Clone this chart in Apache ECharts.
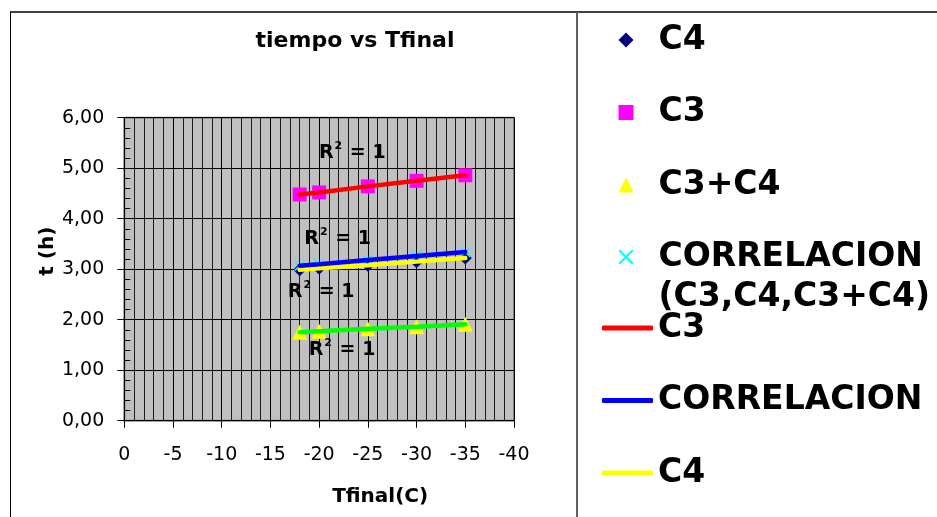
<!DOCTYPE html>
<html>
<head>
<meta charset="utf-8">
<script src="https://cdn.jsdelivr.net/npm/echarts@6/dist/echarts.min.js"></script>
<style>
html,body{margin:0;padding:0;background:#fff;}
#chart{width:937px;height:517px;}
</style>
</head>
<body>
<div id="chart"></div>
<script>
// ---- data ----
var temps = [-18, -20, -25, -30, -35];
var c4 = [2.99, 3.02, 3.08, 3.15, 3.22];
var c3 = [4.48, 4.52, 4.64, 4.75, 4.86];
var c3c4 = [1.75, 1.77, 1.82, 1.86, 1.91];
var correl = [3.07, 3.10, 3.18, 3.26, 3.34];
var r2X = [-23.4, -21.9, -20.2, -22.35];
var r2Y = [5.32, 3.63, 2.57, 1.42];

function pairs(xs, ys) { return xs.map(function (x, i) { return [x, ys[i]]; }); }

var FONT = 'DejaVu Sans';
var crossPath = 'path://M0,1 L1,0 L5,4 L9,0 L10,1 L6,5 L10,9 L9,10 L5,6 L1,10 L0,9 L4,5 Z';

var displayNames = {
  'CORRELACION (C3,C4,C3+C4)': ' \nCORRELACION\n(C3,C4,C3+C4)',
  'C3 tendencia': 'C3',
  'CORRELACION tendencia': 'CORRELACION',
  'C4 tendencia': 'C4'
};
function fmt(n) { return displayNames[n] || n; }

var chart = echarts.init(document.getElementById('chart'));
var option = {
  backgroundColor: '#fff',
  animation: false,
  textStyle: { fontFamily: FONT },
  title: {
    text: 'tiempo vs Tfinal',
    left: 350, top: 25, textAlign: 'center',
    textStyle: { fontFamily: FONT, fontWeight: 'bold', fontSize: 22, color: '#000' }
  },
  grid: {
    left: 124.3, right: 423, top: 117.7, bottom: 96.3,
    show: true, backgroundColor: '#C0C0C0', borderColor: '#808080', borderWidth: 2
  },
  legend: [
    {
      orient: 'vertical', left: 618.5, top: 20, padding: 0, itemGap: 32.5,
      itemWidth: 15, itemHeight: 15, selectedMode: false,
      data: ['C4', 'C3', 'C3+C4'], formatter: fmt,
      textStyle: { fontFamily: FONT, fontWeight: 'bold', fontSize: 33, color: '#000', lineHeight: 40, padding: [0, 0, 0, 20] }
    },
    {
      orient: 'vertical', left: 618.5, top: 197, padding: 0,
      itemWidth: 15, itemHeight: 15, selectedMode: false,
      data: ['CORRELACION (C3,C4,C3+C4)'], formatter: fmt,
      textStyle: { fontFamily: FONT, fontWeight: 'bold', fontSize: 33, color: '#000', lineHeight: 40, padding: [0, 0, 0, 20] }
    },
    {
      orient: 'vertical', left: 602, top: 308, padding: 0, itemGap: 32.5,
      itemWidth: 51, itemHeight: 5, icon: 'roundRect', selectedMode: false,
      data: ['C3 tendencia', 'CORRELACION tendencia', 'C4 tendencia'], formatter: fmt,
      textStyle: { fontFamily: FONT, fontWeight: 'bold', fontSize: 33, color: '#000', lineHeight: 40 }
    }
  ],
  xAxis: {
    type: 'value', min: -40, max: 0, interval: 5, inverse: true,
    axisLine: { show: true, onZero: false, lineStyle: { color: '#000', width: 1 } },
    axisTick: { show: true, length: 7, lineStyle: { color: '#000' } },
    minorTick: { show: true, splitNumber: 5, length: 0 },
    splitLine: { show: true, lineStyle: { color: '#000', width: 1 } },
    minorSplitLine: { show: true, lineStyle: { color: '#1a1a1a', width: 1 } },
    axisLabel: { fontFamily: FONT, fontSize: 19, color: '#000', margin: 25 },
    name: 'Tfinal(C)', nameLocation: 'middle', nameGap: 66,
    nameTextStyle: { fontFamily: FONT, fontWeight: 'bold', fontSize: 20, color: '#000', padding: [0, 0, 0, 122] }
  },
  yAxis: {
    type: 'value', min: 0, max: 6, interval: 1,
    axisLine: { show: true, onZero: false, lineStyle: { color: '#000', width: 1 } },
    axisTick: { show: true, length: 7, lineStyle: { color: '#000' } },
    minorTick: { show: true, splitNumber: 5, length: -6, lineStyle: { color: '#000' } },
    splitLine: { show: true, lineStyle: { color: '#000', width: 1 } },
    axisLabel: {
      fontFamily: FONT, fontSize: 19, color: '#000', margin: 20,
      formatter: function (v) { return v.toFixed(2).replace('.', ','); }
    },
    name: 't (h)', nameLocation: 'middle', nameGap: 62,
    nameTextStyle: { fontFamily: FONT, fontWeight: 'bold', fontSize: 20, color: '#000', padding: [0, 0, 0, 36] }
  },
  series: [
    { name: 'C4', type: 'scatter', symbol: 'diamond', symbolSize: 13, z: 2,
      itemStyle: { color: '#000080', opacity: 1 }, data: pairs(temps, c4) },
    { name: 'C3', type: 'scatter', symbol: 'rect', symbolSize: 14, z: 2,
      itemStyle: { color: '#FF00FF', opacity: 1 }, data: pairs(temps, c3) },
    { name: 'C3+C4', type: 'scatter', symbol: 'triangle', symbolSize: 15, z: 2,
      itemStyle: { color: '#FFFF00', opacity: 1 }, data: pairs(temps, c3c4) },
    { name: 'CORRELACION (C3,C4,C3+C4)', type: 'scatter', symbol: crossPath, symbolSize: 11, z: 2,
      itemStyle: { color: '#00FFFF', opacity: 1 }, data: pairs(temps, correl) },
    { name: 'C3 tendencia', type: 'line', symbol: 'none', z: 4, color: '#FF0000',
      lineStyle: { color: '#FF0000', width: 4.5, cap: 'round' }, data: pairs(temps, c3) },
    { name: 'C4 tendencia', type: 'line', symbol: 'none', z: 4, color: '#FFFF00',
      lineStyle: { color: '#FFFF00', width: 4.5, cap: 'round' }, data: pairs(temps, c4) },
    { name: 'CORRELACION tendencia', type: 'line', symbol: 'none', z: 5, color: '#0000FF',
      lineStyle: { color: '#0000FF', width: 4.5, cap: 'round' }, data: pairs(temps, correl) },
    { name: 'C3+C4 tendencia', type: 'line', symbol: 'none', z: 4, color: '#00FF00',
      lineStyle: { color: '#00FF00', width: 4.5, cap: 'round' }, data: pairs(temps, c3c4) },
    { name: 'R2', type: 'scatter', symbol: 'circle', symbolSize: 1, z: 6, silent: true,
      itemStyle: { color: '#C0C0C0', opacity: 0 },
      label: {
        show: true, position: 'inside', opacity: 1, color: '#000', textBorderWidth: 0,
        formatter: '{r|R}{s|2}{r| = 1}',
        rich: {
          r: { fontFamily: FONT, fontWeight: 'bold', fontSize: 19, color: '#000', lineHeight: 22, verticalAlign: 'bottom', textBorderWidth: 0 },
          s: { fontFamily: FONT, fontWeight: 'bold', fontSize: 11, color: '#000', lineHeight: 12, verticalAlign: 'top', padding: [0, 1, 0, 1], textBorderWidth: 0 }
        }
      },
      data: pairs(r2X, r2Y) }
  ],
  graphic: [
    { type: 'line', shape: { x1: 10, y1: 12, x2: 937, y2: 12 }, style: { stroke: '#404040', lineWidth: 2 } },
    { type: 'line', shape: { x1: 10.5, y1: 12, x2: 10.5, y2: 517 }, style: { stroke: '#000', lineWidth: 1 } },
    { type: 'line', shape: { x1: 577, y1: 12, x2: 577, y2: 517 }, style: { stroke: '#606060', lineWidth: 2 } }
  ]
};
chart.setOption(option);
</script>
</body>
</html>
